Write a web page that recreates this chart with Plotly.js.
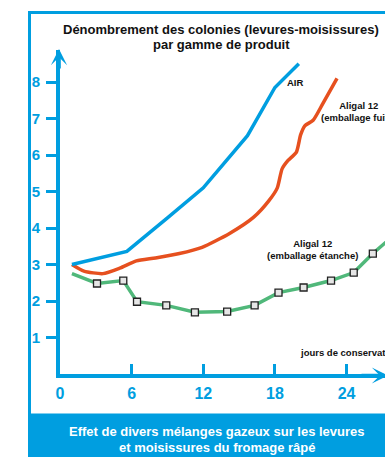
<!DOCTYPE html>
<html>
<head>
<meta charset="utf-8">
<script src="https://cdn.plot.ly/plotly-3.0.1.min.js"></script>
<style>
html,body{margin:0;padding:0;overflow:hidden;background:#fff;width:385px;height:457px;}
#chart{width:430px;height:457px;}
</style>
</head>
<body>
<div id="chart"></div>
<script>
// ---- data ----
const airDays = [1, 5.6, 9, 12, 15.7, 18, 20];
const airVals = [3.0, 3.36, 4.28, 5.1, 6.53, 7.85, 8.5];

const fuyDays = [1, 2, 3.6, 5, 6.4, 8, 10, 11.9, 14.2, 16.2, 17.5, 18.2, 18.6, 19.1, 19.8, 20.15, 20.5, 21.2, 22.0, 23.2];
const fuyVals = [3.0, 2.82, 2.75, 2.9, 3.1, 3.18, 3.3, 3.47, 3.85, 4.29, 4.75, 5.1, 5.62, 5.85, 6.08, 6.55, 6.8, 6.95, 7.4, 8.1];

const etaDays = [1, 3.1, 5.3, 6.45, 8.9, 11.3, 14.0, 16.3, 18.3, 20.4, 22.7, 24.6, 26.2, 28.5];
const etaVals = [2.75, 2.48, 2.56, 1.98, 1.88, 1.69, 1.71, 1.88, 2.23, 2.37, 2.56, 2.78, 3.30, 3.95];
const etaMarked = [0, 1, 1, 1, 1, 1, 1, 1, 1, 1, 1, 1, 1, 0];

const xTicks = [0, 6, 12, 18, 24];
const yTicks = [1, 2, 3, 4, 5, 6, 7, 8];

const titleLines = ["Dénombrement des colonies (levures-moisissures)", "par gamme de produit"];
const bannerLines = ["Effet de divers mélanges gazeux sur les levures", "et moisissures du fromage râpé"];
const seriesLabels = ["AIR", "Aligal 12<br>(emballage fuité)", "Aligal 12<br>(emballage étanche)"];
const xAxisLabel = "jours de conservation";

// ---- style ----
const BLUE = "#009ee0", ORANGE = "#e6501f", GREEN = "#50b87a";
const FONT = "'Liberation Sans',Arial,Helvetica,sans-serif";
const W = 430, H = 457, ML = 60, MR = 38, MT = 50, MB = 83;
const PW = W - ML - MR, PH = H - MT - MB;
const XS = 11.94, YS = 36.5; // px per unit
const xr = [0, PW / XS], yr = [0, PH / YS];
const px = p => (p - ML) / PW;
const py = p => (H - MB - p) / PH;

const traces = [
  {x: fuyDays, y: fuyVals, mode: "lines", line: {color: ORANGE, width: 3.5, shape: "spline", smoothing: 0.6}, hoverinfo: "skip"},
  {x: airDays, y: airVals, mode: "lines", line: {color: BLUE, width: 3.5}, hoverinfo: "skip"},
  {x: etaDays, y: etaVals, mode: "lines+markers", line: {color: GREEN, width: 3.5},
   marker: {symbol: "square", size: 7, color: "#e6e6e6", opacity: etaMarked, line: {color: "#222", width: 1.3}}, hoverinfo: "skip"}
];

function txt(x, y, t, size, color, anchor) {
  return {xref: "paper", yref: "paper", x: px(x), y: py(y), text: "<b>" + t + "</b>", showarrow: false,
    xanchor: anchor || "center", yanchor: "middle", font: {family: FONT, size: size, color: color}};
}
const ann = [
  txt(221, 30, titleLines[0], 13, "#111"),
  txt(221, 45, titleLines[1], 13, "#111"),
  txt(217, 432, bannerLines[0], 13, "#fff"),
  txt(217, 448, bannerLines[1], 13, "#fff"),
  txt(295, 82, seriesLabels[0], 9.5, "#111"),
  txt(359, 111.5, seriesLabels[1], 9.5, "#111"),
  txt(312, 249.5, seriesLabels[2], 9.5, "#111"),
  txt(298, 352, xAxisLabel, 9.5, "#111", "left"),
  // axis arrowheads
  {xref: "paper", yref: "paper", axref: "paper", ayref: "paper", x: px(59), y: py(49), ax: px(59), ay: py(70),
    showarrow: true, arrowhead: 3, arrowsize: 0.75, arrowwidth: 3.6, arrowcolor: BLUE, text: ""},
  {xref: "paper", yref: "paper", axref: "paper", ayref: "paper", x: px(388), y: py(375.5), ax: px(360), ay: py(375.5),
    showarrow: true, arrowhead: 3, arrowsize: 0.75, arrowwidth: 3.6, arrowcolor: BLUE, text: ""}
];

const shapes = [
  {type: "rect", xref: "paper", yref: "paper", x0: px(29.5), x1: px(428), y0: py(415), y1: py(12.5), line: {color: BLUE, width: 3}, fillcolor: "rgba(0,0,0,0)", layer: "below"},
  {type: "rect", xref: "paper", yref: "paper", x0: px(28), x1: px(430), y0: py(460), y1: py(415), line: {width: 0}, fillcolor: BLUE, layer: "below"}
];

const layout = {
  width: W, height: H,
  margin: {l: ML, r: MR, t: MT, b: MB, pad: 0},
  paper_bgcolor: "#fff", plot_bgcolor: "rgba(0,0,0,0)",
  showlegend: false,
  xaxis: {range: xr, showline: true, linecolor: BLUE, linewidth: 4, showgrid: false, zeroline: false,
    tickmode: "array", tickvals: xTicks, ticktext: xTicks.map(String), ticks: "inside", ticklen: 10, tickwidth: 3, tickcolor: BLUE,
    tickfont: {family: FONT, size: 16, color: BLUE, weight: "bold"}, ticklabelstandoff: 2, fixedrange: true},
  yaxis: {range: yr, showline: true, linecolor: BLUE, linewidth: 4, showgrid: false, zeroline: false,
    tickmode: "array", tickvals: yTicks, ticktext: yTicks.map(String), ticks: "outside", ticklen: 10, tickwidth: 3, tickcolor: BLUE,
    tickfont: {family: FONT, size: 15, color: BLUE, weight: "bold"}, ticklabelstandoff: 3, fixedrange: true},
  annotations: ann,
  shapes: shapes
};

Plotly.newPlot("chart", traces, layout, {displayModeBar: false, staticPlot: true});
</script>
</body>
</html>
